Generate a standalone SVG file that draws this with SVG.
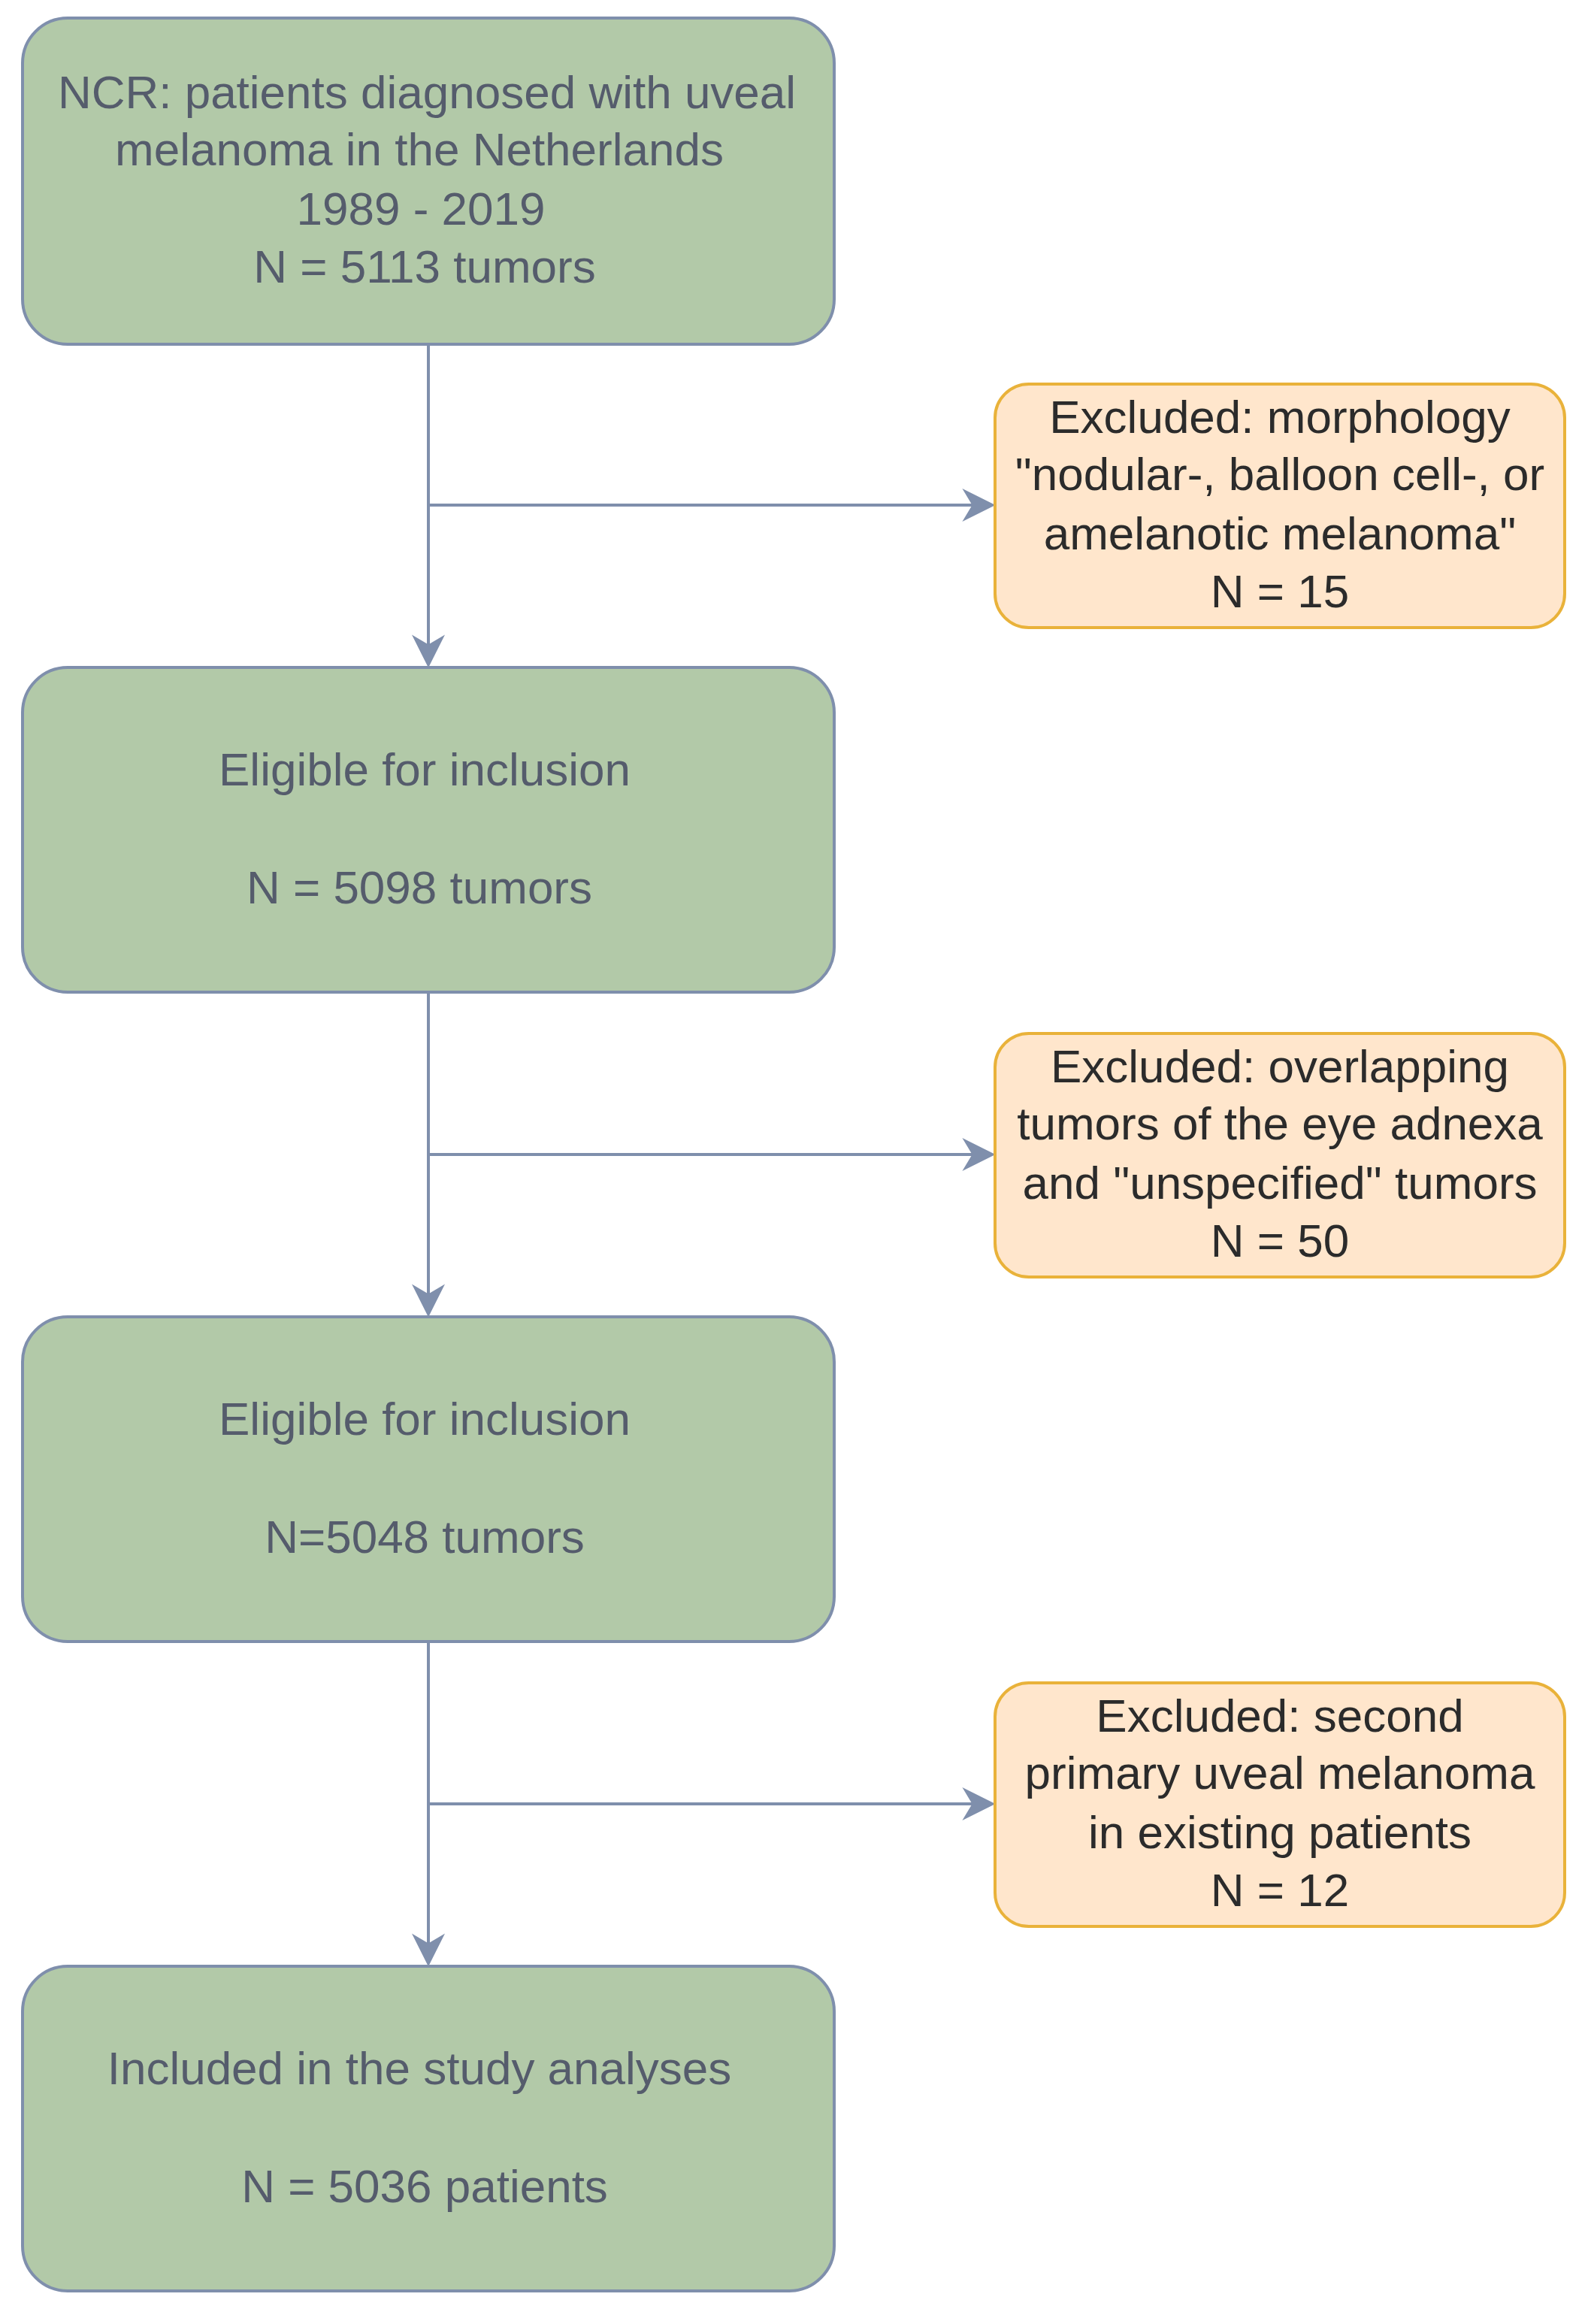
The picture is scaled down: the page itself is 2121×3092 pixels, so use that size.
<svg xmlns="http://www.w3.org/2000/svg" width="2121" height="3092" viewBox="0 0 2121 3092">
<style>
.g{fill:#b2c9a8;stroke:#7f8fac;stroke-width:4}
.o{fill:#ffe6cc;stroke:#e9b23a;stroke-width:4}
text{font-family:"Liberation Sans",Arial,sans-serif;font-size:62px;text-anchor:middle}
.tg{fill:#555c6c}
.to{fill:#2b2b2b}
</style>
<defs>
<marker id="b" viewBox="0 0 10 10" refX="9" refY="5" markerWidth="11" markerHeight="11" orient="auto"><path d="M0,0 L10,5 L0,10 L3,5 Z" fill="#7f8fac"/></marker></defs>
<rect width="2121" height="3092" fill="#fff"/>
<g id="connectors">
<path d="M570 458 V884" stroke="#7f8fac" stroke-width="4" marker-end="url(#b)"/>
<path d="M570 672 H1320" stroke="#7f8fac" stroke-width="4" marker-end="url(#b)"/>
<path d="M570 1320 V1748" stroke="#7f8fac" stroke-width="4" marker-end="url(#b)"/>
<path d="M570 1536 H1320" stroke="#7f8fac" stroke-width="4" marker-end="url(#b)"/>
<path d="M570 2184 V2612" stroke="#7f8fac" stroke-width="4" marker-end="url(#b)"/>
<path d="M570 2400 H1320" stroke="#7f8fac" stroke-width="4" marker-end="url(#b)"/>
</g>
<g id="n1"><rect class="g" x="30" y="24" width="1080" height="434" rx="60"/>
<text class="tg" x="568" y="144">NCR: patients diagnosed with uveal</text>
<text class="tg" x="558" y="220">melanoma in the Netherlands</text>
<text class="tg" x="560" y="299">1989 - 2019</text>
<text class="tg" x="565" y="376">N = 5113 tumors</text></g>
<g id="x1"><rect class="o" x="1324" y="511" width="758" height="324" rx="45"/>
<text class="to" x="1703" y="576">Excluded: morphology</text>
<text class="to" x="1703" y="652">"nodular-, balloon cell-, or</text>
<text class="to" x="1703" y="731">amelanotic melanoma"</text>
<text class="to" x="1703" y="808">N = 15</text></g>
<g id="n2"><rect class="g" x="30" y="888" width="1080" height="432" rx="60"/>
<text class="tg" x="565" y="1045">Eligible for inclusion</text>
<text class="tg" x="558" y="1202">N = 5098 tumors</text></g>
<g id="x2"><rect class="o" x="1324" y="1375" width="758" height="324" rx="45"/>
<text class="to" x="1703" y="1440">Excluded: overlapping</text>
<text class="to" x="1703" y="1516">tumors of the eye adnexa</text>
<text class="to" x="1703" y="1595">and "unspecified" tumors</text>
<text class="to" x="1703" y="1672">N = 50</text></g>
<g id="n3"><rect class="g" x="30" y="1752" width="1080" height="432" rx="60"/>
<text class="tg" x="565" y="1909">Eligible for inclusion</text>
<text class="tg" x="565" y="2066">N=5048 tumors</text></g>
<g id="x3"><rect class="o" x="1324" y="2239" width="758" height="324" rx="45"/>
<text class="to" x="1703" y="2304">Excluded: second</text>
<text class="to" x="1703" y="2380">primary uveal melanoma</text>
<text class="to" x="1703" y="2459">in existing patients</text>
<text class="to" x="1703" y="2536">N = 12</text></g>
<g id="n4"><rect class="g" x="30" y="2616" width="1080" height="432" rx="60"/>
<text class="tg" x="558" y="2773">Included in the study analyses</text>
<text class="tg" x="565" y="2930">N = 5036 patients</text></g>
</svg>
